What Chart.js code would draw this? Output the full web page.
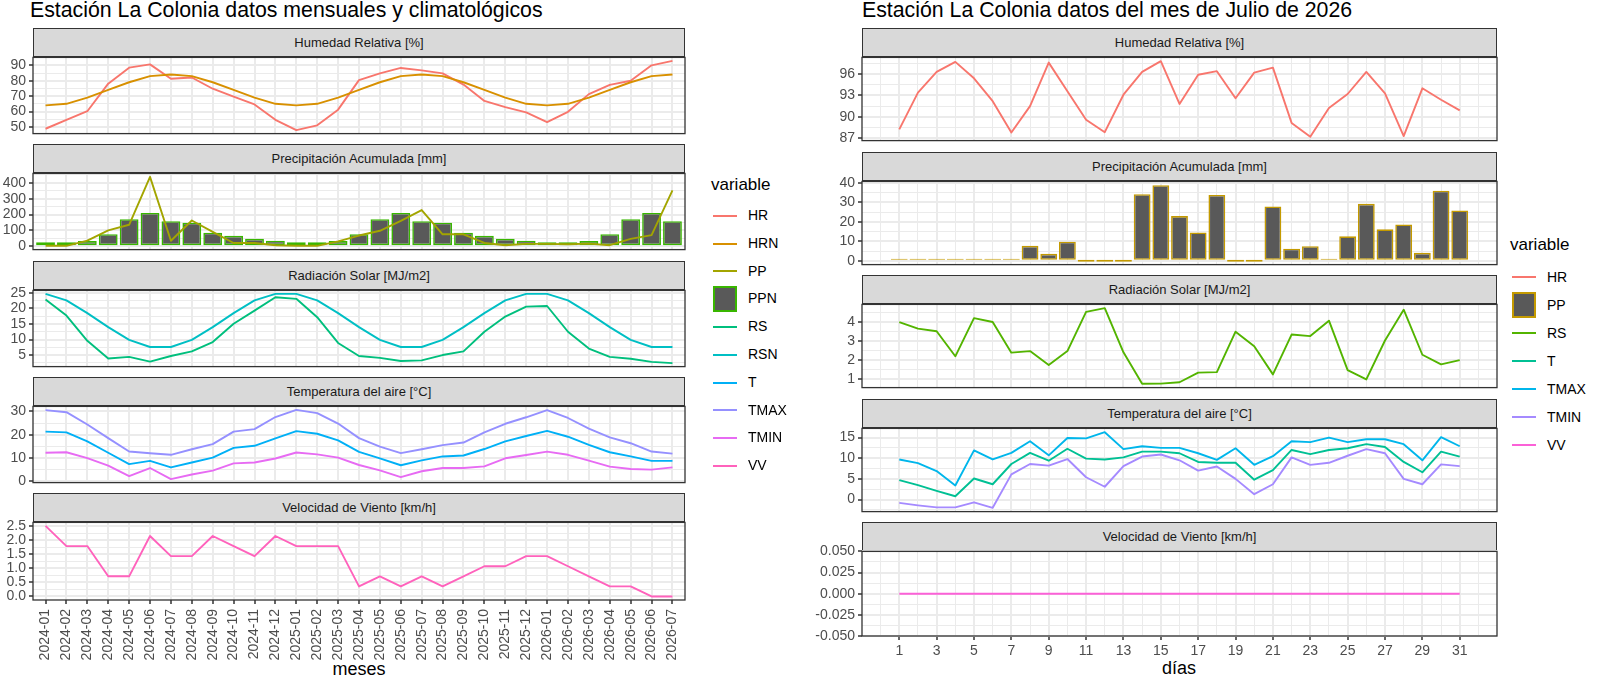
<!DOCTYPE html>
<html><head><meta charset="utf-8">
<title>Estación La Colonia</title>
<script src="https://cdn.jsdelivr.net/npm/chart.js@4.4.1/dist/chart.umd.min.js"></script>
<style>
html,body{margin:0;padding:0;background:#fff;}
body{width:1600px;height:676px;position:relative;overflow:hidden;font-family:"Liberation Sans",Arial,Helvetica,sans-serif;}
.t{position:absolute;white-space:nowrap;color:#000;}
.title{font-size:21.3px;line-height:21px;}
.axt{font-size:18px;line-height:18px;transform:translateX(-50%);}
.strip{position:absolute;box-sizing:border-box;background:#D9D9D9;border:1px solid #333;color:#1A1A1A;font-size:13px;display:flex;align-items:center;justify-content:center;}
canvas.cv{position:absolute;}
.lg{position:absolute;}
.lgt{font-size:17px;color:#000;line-height:26px;}
.li{position:relative;}
.lk{position:absolute;left:2px;width:24px;}
.ll{position:absolute;left:37px;top:0;font-size:14px;color:#000;}
</style></head>
<body>
<div class="t title" style="left:30px;top:0px">Estación La Colonia datos mensuales y climatológicos</div>
<div class="t title" style="left:862px;top:0px">Estación La Colonia datos del mes de Julio de 2026</div>
<div class="t axt" style="left:359px;top:660px">meses</div>
<div class="t axt" style="left:1179px;top:659px">días</div>
<script>
// ---------------- DATA ----------------
const months = ['2024-01','2024-02','2024-03','2024-04','2024-05','2024-06','2024-07','2024-08','2024-09','2024-10','2024-11','2024-12',
                '2025-01','2025-02','2025-03','2025-04','2025-05','2025-06','2025-07','2025-08','2025-09','2025-10','2025-11','2025-12',
                '2026-01','2026-02','2026-03','2026-04','2026-05','2026-06','2026-07'];
const mHR   = [48.8,54.5,60.2,78.1,88.5,90.6,81.3,82.1,74.8,69.6,64.6,54.6,47.9,51.0,61.2,80.4,84.8,88.3,86.7,84.8,77.5,66.9,62.9,59.4,53.1,59.8,71.3,77.3,80.0,90.0,92.9];
const mHRN  = [64,65,69,74,79,83,84,83,79,74,69,65,64,65,69,74,79,83,84,83,79,74,69,65,64,65,69,74,79,83,84];
const mPP   = [2,2,35,100,135,438,34,162,90,20,20,6,2,2,30,67,97,160,228,75,75,20,6,14,14,12,16,6,46,70,352];
const mPPN  = [24,24,32,75,170,210,158,148,85,65,46,34,24,24,32,75,170,210,158,148,85,65,46,34,24,24,32,75,170,210,158];
const mRS   = [22.9,17.7,9.6,3.9,4.4,2.9,4.7,6.2,9.2,15.1,19.3,23.6,23.1,17.2,8.9,4.7,4.1,3.1,3.3,5.0,6.2,12.5,17.4,20.6,20.8,12.5,7.1,4.4,3.8,2.8,2.4];
const mRSN  = [24.7,22.6,18.5,14.0,9.9,7.6,7.6,9.9,14.0,18.5,22.6,24.7,24.7,22.6,18.5,14.0,9.9,7.6,7.6,9.9,14.0,18.5,22.6,24.7,24.7,22.6,18.5,14.0,9.9,7.6,7.6];
const mT    = [21.3,21.0,17.1,12.2,7.3,8.7,5.9,8.0,10.1,14.3,15.2,18.4,21.5,20.4,17.5,12.6,9.8,6.8,8.9,10.6,11.0,13.8,17.1,19.4,21.6,19.1,15.6,12.4,10.6,8.7,8.7];
const mTMAX = [30.6,29.7,24.4,18.5,12.7,12.0,11.3,13.7,15.9,21.3,22.4,27.6,30.7,29.3,24.8,18.5,14.8,12.0,13.7,15.5,16.6,21.0,24.7,27.5,30.6,27.2,22.6,18.8,16.3,12.7,11.8];
const mTMIN = [12.2,12.4,9.9,6.6,2.1,5.6,0.8,2.8,4.5,7.6,8.0,9.7,12.3,11.5,10.1,6.9,4.6,1.7,4.2,5.6,5.6,6.3,9.8,11.2,12.7,11.3,8.8,6.2,5.2,4.9,5.9];
const mVV   = [2.52,1.8,1.8,0.72,0.72,2.16,1.44,1.44,2.16,1.8,1.44,2.16,1.8,1.8,1.8,0.36,0.72,0.36,0.72,0.36,0.72,1.08,1.08,1.44,1.44,1.08,0.72,0.36,0.36,0,0];

const days  = [1,2,3,4,5,6,7,8,9,10,11,12,13,14,15,16,17,18,19,20,21,22,23,24,25,26,27,28,29,30,31];
const dHR   = [88.25,93.4,96.3,97.7,95.4,92.2,87.8,91.5,97.6,93.6,89.6,87.85,93.1,96.3,97.8,91.8,95.9,96.4,92.6,96.2,96.9,89.15,87.2,91.25,93.2,96.3,93.3,87.3,94.0,92.4,90.9];
const dPP   = [0.6,0.3,0.3,0.6,0.3,0.3,0.6,7.7,3.6,9.8,0,0,0,34.3,38.9,23.0,14.6,33.9,0,0,28.0,6.2,7.5,0.5,12.6,29.3,16.2,18.7,4.1,36.1,25.9];
const dRS   = [3.98,3.64,3.5,2.2,4.18,3.98,2.39,2.47,1.75,2.47,4.51,4.7,2.41,0.77,0.78,0.85,1.35,1.38,3.48,2.72,1.26,3.33,3.25,4.05,1.48,1.0,3.02,4.62,2.28,1.78,2.0];
const dT    = [4.7,3.5,2.1,0.8,5.1,3.7,8.6,11.3,9.4,12.3,9.9,9.7,10.2,11.6,11.6,11.2,9.1,8.9,8.9,4.8,7.1,12.0,11.0,12.0,12.4,13.4,12.7,9.1,6.6,11.6,10.4];
const dTMAX = [9.7,8.8,6.9,3.4,11.9,9.7,11.3,14.1,10.7,14.9,14.8,16.3,12.2,12.9,12.5,12.5,11.2,9.6,12.4,8.4,10.5,14.1,13.9,15.0,13.9,14.6,14.6,13.4,9.5,15.1,12.9];
const dTMIN = [-0.8,-1.4,-1.9,-1.9,-0.7,-2.0,6.1,8.6,8.2,9.8,5.4,3.1,8.1,10.4,10.9,9.5,7.0,8.0,5.0,1.3,3.7,10.2,8.4,8.9,10.6,12.2,11.2,5.0,3.7,8.5,8.1];
const dVV   = [0,0,0,0,0,0,0,0,0,0,0,0,0,0,0,0,0,0,0,0,0,0,0,0,0,0,0,0,0,0,0];

// tick values (major breaks)
const tkMHR = [50,60,70,80,90];
const tkMPP = [0,100,200,300,400];
const tkMRS = [5,10,15,20,25];
const tkMT  = [0,10,20,30];
const tkMVV = [0,0.5,1,1.5,2,2.5];
const tkDHR = [87,90,93,96];
const tkDPP = [0,10,20,30,40];
const tkDRS = [1,2,3,4];
const tkDT  = [0,5,10,15];
const tkDVV = [-0.05,-0.025,0,0.025,0.05];
const dayBreaks = [1,3,5,7,9,11,13,15,17,19,21,23,25,27,29,31];

const stripNames = ['Humedad Relativa [%]','Precipitación Acumulada [mm]','Radiación Solar [MJ/m2]','Temperatura del aire [°C]','Velocidad de Viento [km/h]'];
const leftVars  = ['HR','HRN','PP','PPN','RS','RSN','T','TMAX','TMIN','VV'];
const rightVars = ['HR','PP','RS','T','TMAX','TMIN','VV'];

// ---------------- STYLE ----------------
const colL = {HR:'#F8766D',HRN:'#D89000',PP:'#A3A500',PPN:'#39B600',RS:'#00BF7D',RSN:'#00BFC4',T:'#00B0F6',TMAX:'#9590FF',TMIN:'#E76BF3',VV:'#FF62BC'};
const colR = {HR:'#F8766D',PP:'#C49A00',RS:'#53B400',T:'#00C094',TMAX:'#00B6EB',TMIN:'#A58AFF',VV:'#FB61D7'};
const FONT = '"Liberation Sans", Arial, Helvetica, sans-serif';
const GRID = '#EBEBEB';
const TICKFONT = 14;

const LAY = {
  L:{plotLeft:33, plotW:652, yW:33, top0:28, stripH:28, panelH:79, pitch:116.3, xH:64, xPad:5},
  R:{plotLeft:862, plotW:635, yW:66, top0:28, stripH:28, panelH:86, pitch:123.5, xH:24, xPad:3}
};

const borderPlugin = {
  id:'panelBorder',
  afterDraw(chart){
    const {ctx, chartArea:a} = chart;
    ctx.save(); ctx.strokeStyle = '#333333'; ctx.lineWidth = 1.3;
    ctx.strokeRect(a.left, a.top, a.right - a.left, a.bottom - a.top);
    ctx.restore();
  }
};

function yRange(series){
  let lo = Infinity, hi = -Infinity;
  series.forEach(s => {
    s.data.forEach(v => { lo = Math.min(lo, v); hi = Math.max(hi, v); });
    if (s.type === 'bar') { lo = Math.min(lo, 0); hi = Math.max(hi, 0); }
  });
  if (hi - lo === 0) return [lo - 0.05, hi + 0.05];
  const e = (hi - lo) * 0.05;
  return [lo - e, hi + e];
}
function withMinor(major, lo, hi){
  const step = major[1] - major[0];
  const all = [];
  major.forEach(m => { all.push(m - step/2); all.push(m); });
  all.push(major[major.length-1] + step/2);
  return all.filter(v => v >= lo - 1e-9 && v <= hi + 1e-9);
}
const isIn = (arr, v) => arr.some(m => Math.abs(m - v) < 1e-9);

function addFacet(L, i, n, f, xcfg, colors){
  const stripTop = Math.round(L.top0 + i * L.pitch);
  const panelTop = stripTop + L.stripH;
  const bottom = (i === n - 1);
  const s = document.createElement('div');
  s.className = 'strip';
  Object.assign(s.style, {left:L.plotLeft+'px', top:stripTop+'px', width:(L.plotW)+'px', height:(L.stripH+1)+'px'});
  s.textContent = f.strip;
  document.body.appendChild(s);

  const padT = 10, padR = 12, padB = bottom ? 0 : 10;
  const cw = L.yW + L.plotW + padR;
  const ch = padT + L.panelH + (bottom ? L.xH : padB);
  const c = document.createElement('canvas');
  c.className = 'cv';
  c.width = cw; c.height = ch;
  Object.assign(c.style, {left:(L.plotLeft - L.yW)+'px', top:(panelTop - padT)+'px', width:cw+'px', height:ch+'px'});
  document.body.appendChild(c);

  const [ylo, yhi] = yRange(f.series);
  const yt = withMinor(f.ticks, ylo, yhi);
  const datasets = f.series.map((sr, k) => {
    const pts = sr.data.map((v, j) => ({x: xcfg.xs[j], y: v}));
    const col = colors[sr.name];
    if (sr.type === 'bar') {
      return {type:'bar', label:sr.name, data:pts, backgroundColor:'#595959', borderColor:col, borderWidth:1.6,
              borderSkipped:false, barPercentage:0.9, categoryPercentage:1, minBarLength:2, order:100};
    }
    return {type:'line', label:sr.name, data:pts, borderColor:col, borderWidth:1.9, pointRadius:0, pointHoverRadius:0,
            tension:0, fill:false, borderJoinStyle:'round', order:50 - k};
  });

  new Chart(c, {
    type:'line',
    data:{datasets},
    options:{
      responsive:false, animation:false, events:[],
      layout:{padding:{left:0, top:padT, right:padR, bottom:padB}},
      plugins:{legend:{display:false}, tooltip:{enabled:false}},
      scales:{
        x:{
          type:'linear', min:xcfg.min, max:xcfg.max, bounds:'data', offset:false,
          afterBuildTicks: sc => { sc.ticks = xcfg.ticks.map(v => ({value:v})); },
          afterFit: sc => { sc.height = bottom ? L.xH : 0; },
          ticks:{display:bottom, autoSkip:false, maxRotation:xcfg.rot, minRotation:xcfg.rot, padding:L.xPad,
                 color:'#4D4D4D', font:{family:FONT, size:TICKFONT},
                 callback: v => xcfg.label(v)},
          grid:{offset:false, drawTicks:bottom, tickLength:4,
                color: GRID,
                lineWidth: ctx => isIn(xcfg.major, ctx.tick.value) ? 2 : 1,
                tickColor: ctx => isIn(xcfg.major, ctx.tick.value) ? '#333333' : 'rgba(0,0,0,0)',
                tickWidth: 1.5},
          border:{display:false}
        },
        y:{
          type:'linear', min:ylo, max:yhi, bounds:'data', position:'left',
          afterBuildTicks: sc => { sc.ticks = yt.map(v => ({value:v})); },
          afterFit: sc => { sc.width = L.yW; },
          ticks:{autoSkip:false, padding:3, color:'#4D4D4D', font:{family:FONT, size:TICKFONT},
                 callback: v => isIn(f.ticks, v) ? Number(v).toFixed(f.dec) : ''},
          grid:{drawTicks:true, tickLength:4, color:GRID,
                lineWidth: ctx => isIn(f.ticks, ctx.tick.value) ? 2 : 1,
                tickColor: ctx => isIn(f.ticks, ctx.tick.value) ? '#333333' : 'rgba(0,0,0,0)',
                tickWidth: 1.5},
          border:{display:false}
        }
      }
    },
    plugins:[borderPlugin]
  });
}

function legend(x, y, titleH, itemH, vars, colors, barVar){
  const d = document.createElement('div');
  d.className = 'lg';
  d.style.left = x + 'px'; d.style.top = y + 'px';
  let h = `<div class="lgt" style="height:${titleH}px">variable</div>`;
  vars.forEach(v => {
    let key;
    if (v === barVar) key = `<div class="lk" style="top:${itemH/2-13}px;height:26px;box-sizing:border-box;background:#595959;border:2px solid ${colors[v]}"></div>`;
    else key = `<div class="lk" style="top:${itemH/2-1}px;height:2px;background:${colors[v]}"></div>`;
    h += `<div class="li" style="height:${itemH}px">${key}<div class="ll" style="line-height:${itemH}px">${v}</div></div>`;
  });
  d.innerHTML = h;
  document.body.appendChild(d);
}

// ---------------- BUILD ----------------
const leftFacets = [
  {strip:stripNames[0], ticks:tkMHR, dec:0, series:[{name:'HR',data:mHR,type:'line'},{name:'HRN',data:mHRN,type:'line'}]},
  {strip:stripNames[1], ticks:tkMPP, dec:0, series:[{name:'PP',data:mPP,type:'line'},{name:'PPN',data:mPPN,type:'bar'}]},
  {strip:stripNames[2], ticks:tkMRS, dec:0, series:[{name:'RS',data:mRS,type:'line'},{name:'RSN',data:mRSN,type:'line'}]},
  {strip:stripNames[3], ticks:tkMT,  dec:0, series:[{name:'T',data:mT,type:'line'},{name:'TMAX',data:mTMAX,type:'line'},{name:'TMIN',data:mTMIN,type:'line'}]},
  {strip:stripNames[4], ticks:tkMVV, dec:1, series:[{name:'VV',data:mVV,type:'line'}]}
];
const rightFacets = [
  {strip:stripNames[0], ticks:tkDHR, dec:0, series:[{name:'HR',data:dHR,type:'line'}]},
  {strip:stripNames[1], ticks:tkDPP, dec:0, series:[{name:'PP',data:dPP,type:'bar'}]},
  {strip:stripNames[2], ticks:tkDRS, dec:0, series:[{name:'RS',data:dRS,type:'line'}]},
  {strip:stripNames[3], ticks:tkDT,  dec:0, series:[{name:'T',data:dT,type:'line'},{name:'TMAX',data:dTMAX,type:'line'},{name:'TMIN',data:dTMIN,type:'line'}]},
  {strip:stripNames[4], ticks:tkDVV, dec:3, series:[{name:'VV',data:dVV,type:'line'}]}
];

// discrete month axis: positions 1..n, expanded by 0.6 on each side
const mPos = months.map((m, i) => i + 1);
const xLeft = {xs:mPos, min:1 - 0.6, max:months.length + 0.6, ticks:mPos, major:mPos, rot:90,
               label: v => months[Math.round(v) - 1] || ''};
// continuous day axis: bar extent (width 0.9) expanded by 5%
const dLo = Math.min(...days) - 0.45, dHi = Math.max(...days) + 0.45, dE = (dHi - dLo) * 0.05;
const dayGrid = [];
for (let v = Math.ceil(dLo - dE); v <= Math.floor(dHi + dE); v++) dayGrid.push(v);
const xRight = {xs:days, min:dLo - dE, max:dHi + dE, ticks:dayGrid, major:dayBreaks, rot:0,
                label: v => isIn(dayBreaks, v) ? String(v) : ''};

leftFacets.forEach((f, i) => addFacet(LAY.L, i, leftFacets.length, f, xLeft, colL));
rightFacets.forEach((f, i) => addFacet(LAY.R, i, rightFacets.length, f, xRight, colR));
legend(711, 172, 30, 27.8, leftVars, colL, 'PPN');
legend(1510, 232, 30.5, 28, rightVars, colR, 'PP');
</script>
</body></html>
